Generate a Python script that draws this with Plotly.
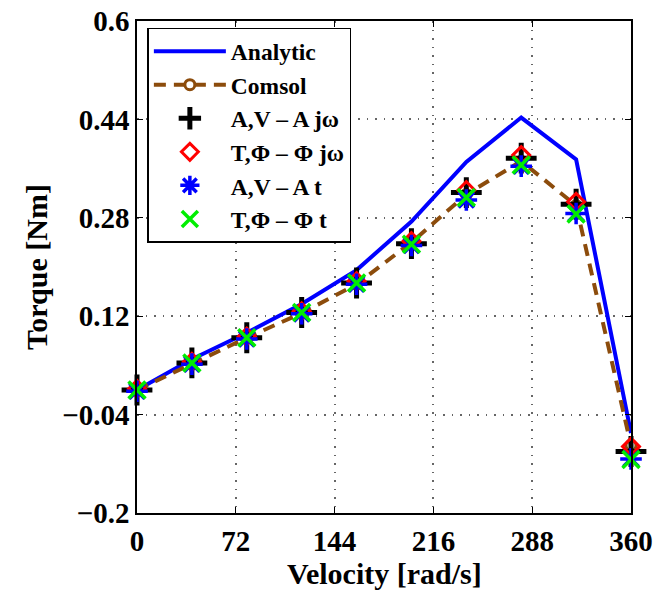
import plotly.graph_objects as go

velocity = [0, 40, 80, 120, 160, 200, 240, 280, 320, 360]
analytic = [0.0, 0.05, 0.093, 0.14, 0.195, 0.274, 0.371, 0.443, 0.375, -0.07]
comsol = [0.0, 0.042, 0.085, 0.125, 0.172, 0.24, 0.318, 0.372, 0.30, -0.09]
av_jw = [0.0, 0.044, 0.085, 0.126, 0.174, 0.238, 0.321, 0.377, 0.302, -0.10]
tphi_jw = [0.002, 0.046, 0.087, 0.128, 0.177, 0.242, 0.325, 0.382, 0.306, -0.092]
av_t = [-0.002, 0.042, 0.083, 0.124, 0.172, 0.235, 0.309, 0.364, 0.287, -0.112]
tphi_t = [0.0, 0.044, 0.085, 0.126, 0.174, 0.237, 0.313, 0.366, 0.286, -0.113]

x_ticks = [0, 72, 144, 216, 288, 360]
x_ticktext = ["0", "72", "144", "216", "288", "360"]
y_ticks = [-0.2, -0.04, 0.12, 0.28, 0.44, 0.6]
y_ticktext = ["\u22120.2", "\u22120.04", "0.12", "0.28", "0.44", "0.6"]

FONT = "Liberation Serif"

fig = go.Figure()
fig.add_trace(go.Scatter(x=velocity, y=analytic, mode="lines", name="Analytic",
                         line=dict(color="#0000ff", width=4), cliponaxis=False))
fig.add_trace(go.Scatter(x=velocity, y=comsol, mode="lines+markers", name="Comsol",
                         line=dict(color="#8c4c0c", width=4, dash="12px,8px"),
                         marker=dict(symbol="circle-open", size=10, color="#8c4c0c",
                                     line=dict(width=3, color="#8c4c0c")),
                         cliponaxis=False))
fig.add_trace(go.Scatter(x=velocity, y=av_jw, mode="markers", name="A,V \u2013 A j\u03c9",
                         marker=dict(symbol="cross-thin-open", size=22, color="black",
                                     line=dict(width=5, color="black")),
                         cliponaxis=False))
fig.add_trace(go.Scatter(x=velocity, y=tphi_jw, mode="markers", name="T,\u03a6 \u2013 \u03a6 j\u03c9",
                         marker=dict(symbol="diamond-open", size=13, color="#ff0000",
                                     line=dict(width=3, color="#ff0000")),
                         cliponaxis=False))
fig.add_trace(go.Scatter(x=velocity, y=av_t, mode="markers", name="A,V \u2013 A t",
                         marker=dict(symbol="asterisk-open", size=18, color="#0000ff",
                                     line=dict(width=3.5, color="#0000ff")),
                         cliponaxis=False))
fig.add_trace(go.Scatter(x=velocity, y=tphi_t, mode="markers", name="T,\u03a6 \u2013 \u03a6 t",
                         marker=dict(symbol="x-thin-open", size=17, color="#00ee00",
                                     line=dict(width=3.5, color="#00ee00")),
                         cliponaxis=False))

axis_common = dict(
    showline=True, linecolor="black", linewidth=1.5, mirror="ticks",
    ticks="inside", ticklen=6, tickcolor="black", tickwidth=1,
    showgrid=True, gridcolor="#666666", griddash="1.5px,7px", gridwidth=1.5,
    zeroline=False, automargin=False,
    tickfont=dict(family=FONT, size=29, color="black", weight="bold"),
)

fig.update_layout(
    width=656, height=590,
    margin=dict(l=137, r=25, t=21, b=77),
    paper_bgcolor="white", plot_bgcolor="white",
    font=dict(family=FONT, color="black"),
    xaxis=dict(range=[0, 360], tickvals=x_ticks, ticktext=x_ticktext,
               ticklabelstandoff=1, **axis_common),
    yaxis=dict(range=[-0.2, 0.6], tickvals=y_ticks, ticktext=y_ticktext,
               title=dict(text="Torque [Nm]", standoff=6,
                          font=dict(family=FONT, size=30, color="black", weight="bold")),
               **axis_common),
    legend=dict(x=0.021, y=0.986, xanchor="left", yanchor="top",
                bgcolor="white", bordercolor="black", borderwidth=1.5,
                font=dict(family=FONT, size=23.5, color="black", weight="bold"),
                itemwidth=72, tracegroupgap=0),
    showlegend=True,
    annotations=[dict(text="Velocity [rad/s]", xref="paper", yref="paper",
                      x=0.5, y=-0.158, xanchor="center", yanchor="bottom",
                      showarrow=False, borderpad=0,
                      font=dict(family=FONT, size=30, color="black", weight="bold"))],
)

fig.write_html("out.html")
